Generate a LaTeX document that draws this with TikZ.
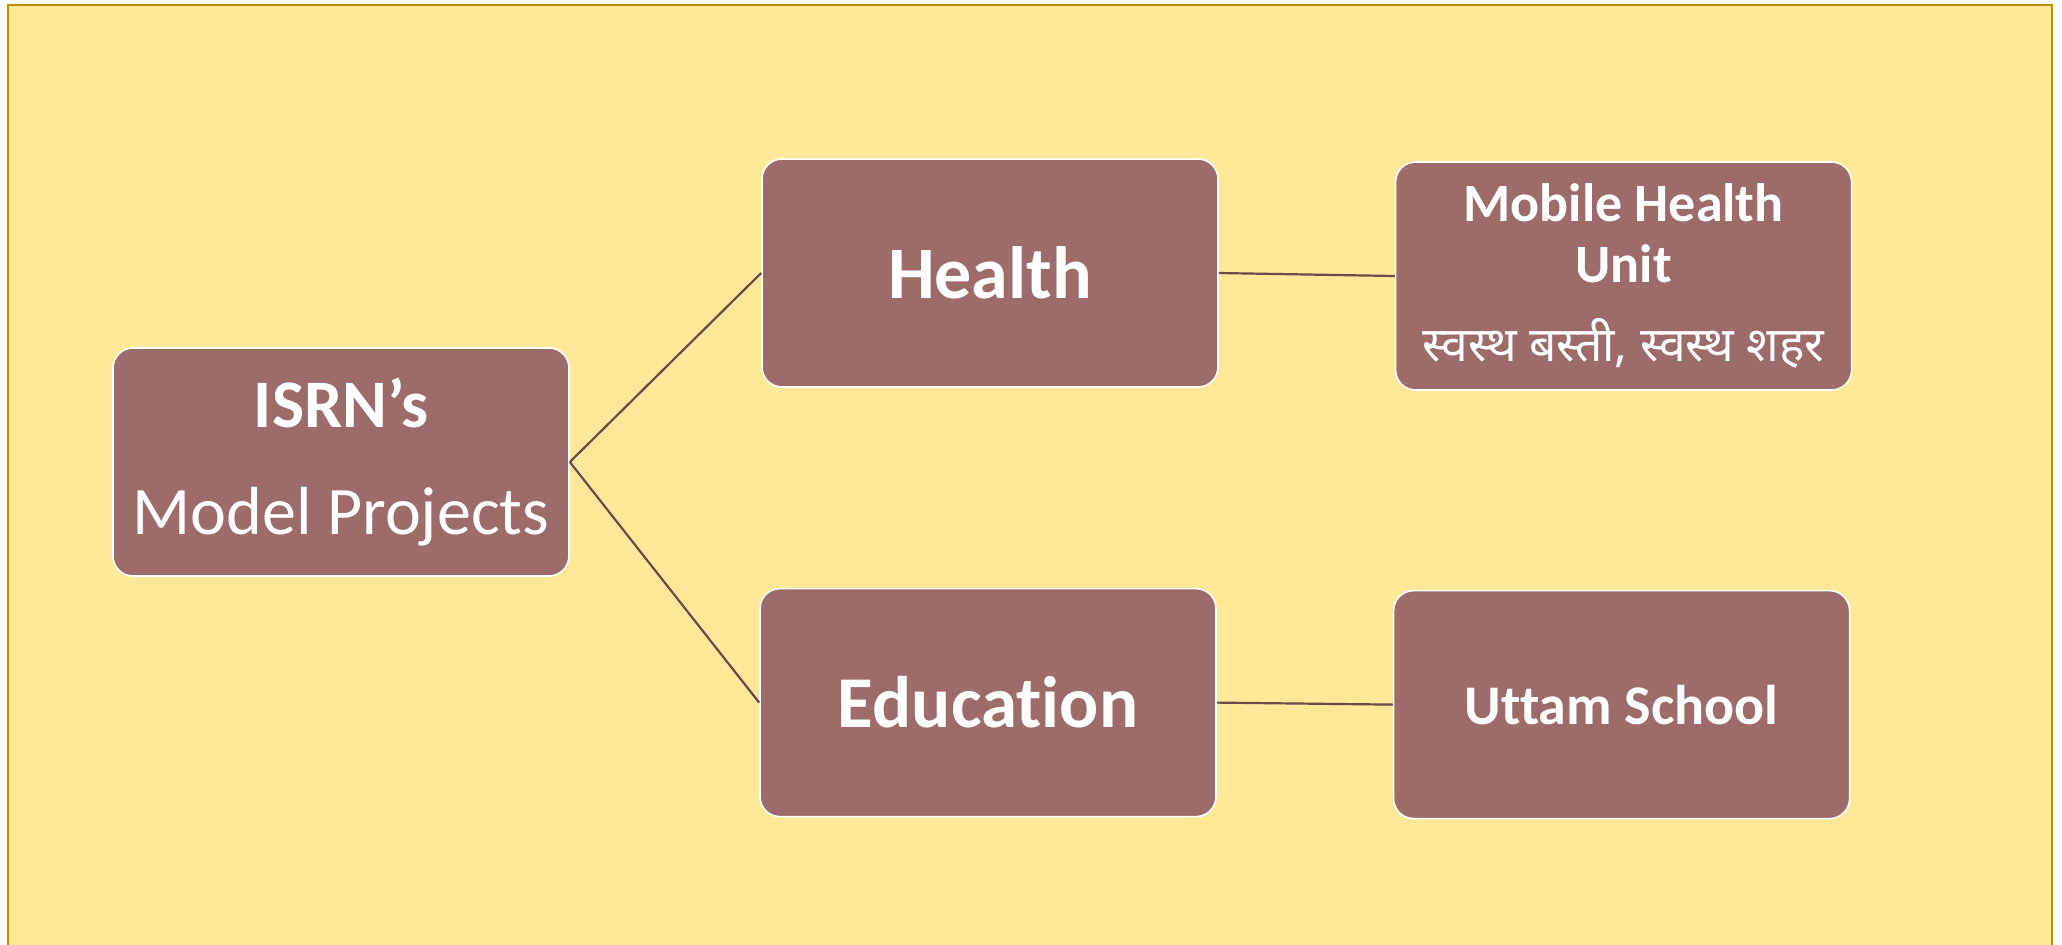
\documentclass[tikz,border=0pt]{standalone}
\usepackage{fontspec}
\setmainfont{Carlito}[Ligatures=NoCommon]
\newfontfamily\devfont[Script=Devanagari]{Noto Sans}
\usetikzlibrary{positioning}
\definecolor{bgyellow}{HTML}{FFE999}
\definecolor{framegold}{HTML}{BF9000}
\definecolor{boxbrown}{HTML}{9E6B6B}
\definecolor{linkbrown}{HTML}{6B4A4A}

\begin{document}
\begin{tikzpicture}[x=0.5pt, y=-0.5pt,
  projbox/.style={draw=white, line width=0.8pt, fill=boxbrown, rounded corners=10pt,
    minimum width=228pt, minimum height=114pt, text=white, align=center, inner sep=0pt},
  link/.style={draw=linkbrown, line width=1.1pt}]

\useasboundingbox (0,0) rectangle (2062,944);
\fill[bgyellow] (8,5) rectangle (2052,960);
\draw[framegold, line width=1.2pt] (8,960) -- (8,5) -- (2052,5) -- (2052,960);

\node[projbox, font=\fontsize{34pt}{53.5pt}\selectfont] (isrn) at (341,462) {\textbf{ISRN’s}\\Model Projects};
\node[projbox, font=\bfseries\fontsize{37pt}{40pt}\selectfont] (health) at (990,273) {Health};
\node[projbox, font=\bfseries\fontsize{36.5pt}{40pt}\selectfont, below=100pt of health.south, anchor=north, xshift=-1pt] (edu) {Education};
\node[projbox, font=\fontsize{27pt}{30.5pt}\selectfont, right=88pt of health, yshift=-1.5pt] (mhu)
  {\textbf{Mobile Health}\\\textbf{Unit}\\[9pt]{\devfont\fontsize{24pt}{30pt}\selectfont स्वस्थ बस्ती, स्वस्थ शहर}};
\node[projbox, font=\bfseries\fontsize{28pt}{30pt}\selectfont, right=88pt of edu, yshift=-1pt] (uttam) {Uttam School};

\draw[link] (isrn.east) -- (health.west);
\draw[link] (isrn.east) -- (edu.west);
\draw[link] (health.east) -- (mhu.west);
\draw[link] (edu.east) -- (uttam.west);
\end{tikzpicture}
\end{document}
